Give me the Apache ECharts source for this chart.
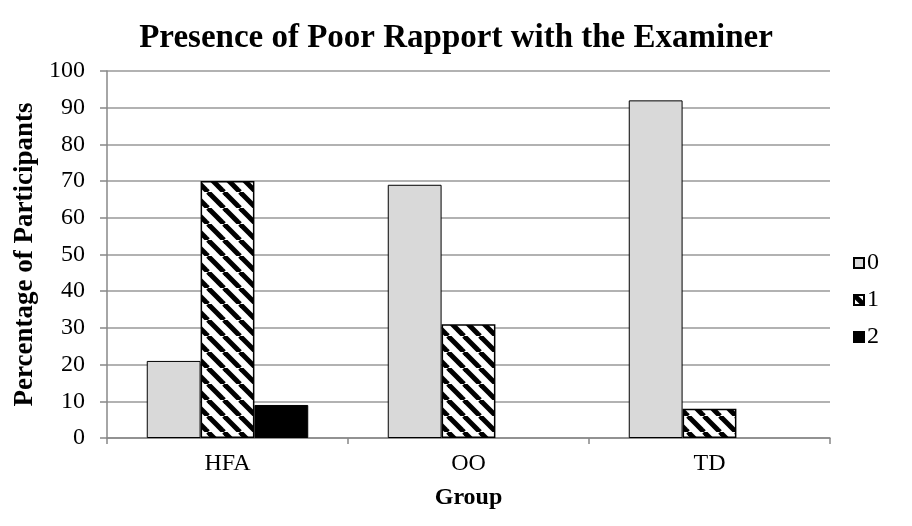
<!DOCTYPE html>
<html>
<head>
<meta charset="utf-8">
<script src="https://cdn.jsdelivr.net/npm/echarts@6/dist/echarts.min.js"></script>
<style>
	html, body { margin: 0; padding: 0; background: #fff; }
	#chart { width: 912px; height: 526px; }
</style>
</head>
<body>
<div id="chart"></div>
<script>
var groups = ["HFA", "OO", "TD"];
var seriesNames = ["0", "1", "2"];
var values0 = [21, 69, 92];
var values1 = [70, 31, 8];
var values2 = [9, 0, 0];

// zero values are not drawn at all in the original
function noZero(arr) {
	return arr.map(function(v) { return v === 0 ? "-" : v; });
}

// diagonal stripe tile for series "1"
function stripeTile() {
	var c = document.createElement("canvas");
	c.width = 16;
	c.height = 16;
	var ctx = c.getContext("2d");
	ctx.fillStyle = "#fff";
	ctx.fillRect(0, 0, 16, 16);
	ctx.strokeStyle = "#000";
	ctx.lineWidth = 5;
	[-16, 0, 16].forEach(function(o) {
		ctx.beginPath();
		ctx.moveTo(o, 0);
		ctx.lineTo(o + 16, 16);
		ctx.stroke();
	});
	return c;
}

var font = "Liberation Serif";
var chart = echarts.init(document.getElementById("chart"));

var option = {
	"backgroundColor": "#fff",
	"animation": false,
	"title": {
		"text": "Presence of Poor Rapport with the Examiner",
		"left": "center",
		"top": 17,
		"textStyle": {
			"fontFamily": font,
			"fontSize": 33,
			"fontWeight": "bold",
			"color": "#000"
		}
	},
	"legend": {
		"orient": "vertical",
		"left": 848,
		"top": 246,
		"itemWidth": 10,
		"itemHeight": 10,
		"itemGap": 13,
		"icon": "rect",
		"data": seriesNames,
		"textStyle": {
			"fontFamily": font,
			"fontSize": 24,
			"color": "#000",
			"padding": [0, 0, 0, -2]
		}
	},
	"grid": {
		"left": 107,
		"right": 82,
		"top": 71,
		"bottom": 88
	},
	"xAxis": {
		"type": "category",
		"data": groups,
		"name": "Group",
		"nameLocation": "middle",
		"nameGap": 48,
		"nameTextStyle": {
			"fontFamily": font,
			"fontSize": 24,
			"fontWeight": "bold",
			"color": "#000"
		},
		"axisLine": { "lineStyle": { "color": "#888", "width": 1.5 } },
		"axisTick": { "show": true, "length": 6, "lineStyle": { "color": "#888", "width": 1.5 } },
		"axisLabel": {
			"fontFamily": font,
			"fontSize": 24,
			"color": "#000",
			"margin": 14
		}
	},
	"yAxis": {
		"type": "value",
		"min": 0,
		"max": 100,
		"interval": 10,
		"name": "Percentage of Participants",
		"nameLocation": "middle",
		"nameGap": 68,
		"nameTextStyle": {
			"fontFamily": font,
			"fontSize": 27,
			"fontWeight": "bold",
			"color": "#000"
		},
		"axisLine": { "show": true, "lineStyle": { "color": "#888", "width": 1.5 } },
		"axisTick": { "show": true, "length": 7, "lineStyle": { "color": "#888", "width": 1.5 } },
		"axisLabel": {
			"fontFamily": font,
			"fontSize": 24,
			"color": "#000",
			"margin": 22
		},
		"splitLine": { "lineStyle": { "color": "#999", "width": 1.5 } }
	},
	"series": [{
		"name": seriesNames[0],
		"type": "bar",
		"data": noZero(values0),
		"barGap": "0%",
		"barCategoryGap": "33%",
		"itemStyle": { "color": "#d9d9d9", "borderColor": "#000", "borderWidth": 1 }
	}, {
		"name": seriesNames[1],
		"type": "bar",
		"data": noZero(values1),
		"barGap": "0%",
		"barCategoryGap": "33%",
		"itemStyle": {
			"color": { "image": stripeTile(), "repeat": "repeat" },
			"borderColor": "#000",
			"borderWidth": 1.5
		}
	}, {
		"name": seriesNames[2],
		"type": "bar",
		"data": noZero(values2),
		"barGap": "0%",
		"barCategoryGap": "33%",
		"itemStyle": { "color": "#000", "borderColor": "#000", "borderWidth": 1 }
	}]
};
chart.setOption(option);
</script>
</body>
</html>
